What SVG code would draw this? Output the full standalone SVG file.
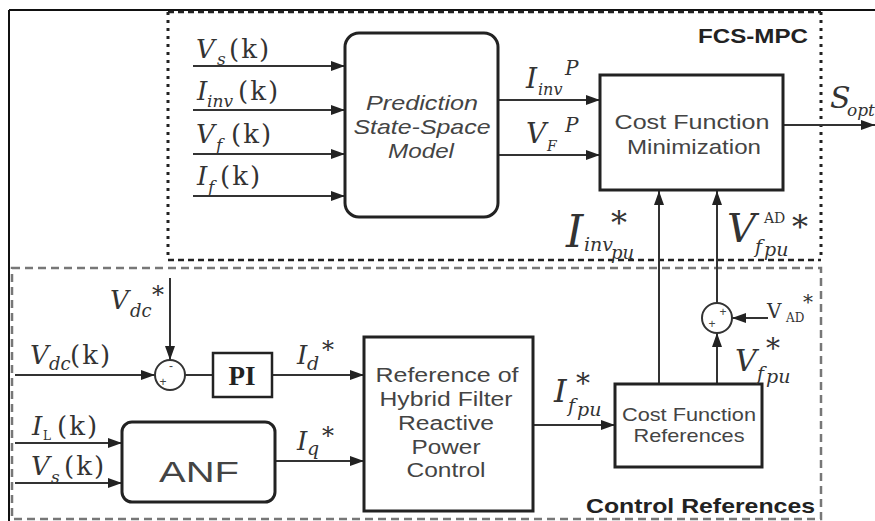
<svg xmlns="http://www.w3.org/2000/svg" width="875" height="521" viewBox="0 0 875 521">
<defs>
<marker id="ah" markerWidth="14" markerHeight="10" refX="14" refY="5" orient="auto" markerUnits="userSpaceOnUse"><path d="M0,0 L14,5 L0,10 z" fill="#222"/></marker>
<style>
.ln{stroke:#333;stroke-width:2;fill:none}
.box{stroke:#222;stroke-width:3;fill:#fff}
.sum{stroke:#333;stroke-width:2;fill:#fff}
.m{font-family:"DejaVu Serif","Liberation Serif",serif;fill:#333;font-size:26px}
.i{font-style:italic}
.s{font-family:"Liberation Sans",Arial,sans-serif;fill:#444;text-anchor:middle}
.b{font-family:"Liberation Sans",Arial,sans-serif;font-weight:bold;fill:#222;text-anchor:end}
.sg{font-family:"Liberation Sans",Arial,sans-serif;fill:#444;font-size:12px;text-anchor:middle}
</style>
</defs>
<rect width="875" height="521" fill="#fff"/>
<!-- outer frame -->
<path d="M9,10 H875 M9,10 V521" stroke="#111" stroke-width="2" fill="none"/>
<!-- FCS-MPC region -->
<g id="fcs-mpc-region">
<path d="M168,12 H821 M168,260 H821" stroke="#222" stroke-width="2.5" stroke-dasharray="6,4" fill="none"/>
<path d="M168,12 V260 M821,12 V260" stroke="#222" stroke-width="3" stroke-dasharray="3,5" fill="none"/>
<text class="b" x="808" y="43" font-size="21" textLength="110" lengthAdjust="spacingAndGlyphs">FCS-MPC</text>
</g>
<!-- Control references region -->
<g id="control-references-region">
<rect x="12" y="268" width="809" height="251" fill="none" stroke="#777" stroke-width="2.5" stroke-dasharray="8,5"/>
<text class="b" x="815" y="513" font-size="21" textLength="229" lengthAdjust="spacingAndGlyphs">Control References</text>
</g>

<g id="connectors">
<line class="ln" x1="193" y1="66" x2="345" y2="66" marker-end="url(#ah)"/>
<line class="ln" x1="193" y1="110" x2="345" y2="110" marker-end="url(#ah)"/>
<line class="ln" x1="193" y1="154" x2="345" y2="154" marker-end="url(#ah)"/>
<line class="ln" x1="193" y1="196" x2="345" y2="196" marker-end="url(#ah)"/>
<line class="ln" x1="498" y1="100" x2="600" y2="100" marker-end="url(#ah)"/>
<line class="ln" x1="498" y1="155" x2="600" y2="155" marker-end="url(#ah)"/>
<line class="ln" x1="783" y1="125" x2="875" y2="125" marker-end="url(#ah)"/>
<line class="ln" x1="659" y1="384" x2="659" y2="191" marker-end="url(#ah)"/>
<line class="ln" x1="717" y1="303" x2="717" y2="191" marker-end="url(#ah)"/>
<line class="ln" x1="717" y1="384" x2="717" y2="333" marker-end="url(#ah)"/>
<line class="ln" x1="768" y1="318" x2="732" y2="318" marker-end="url(#ah)"/>
<line class="ln" x1="170" y1="278" x2="170" y2="360" marker-end="url(#ah)"/>
<line class="ln" x1="15" y1="375" x2="155" y2="375" marker-end="url(#ah)"/>
<line class="ln" x1="185" y1="375" x2="213" y2="375"/>
<line class="ln" x1="272" y1="375" x2="364" y2="375" marker-end="url(#ah)"/>
<line class="ln" x1="15" y1="443" x2="122" y2="443" marker-end="url(#ah)"/>
<line class="ln" x1="15" y1="483" x2="122" y2="483" marker-end="url(#ah)"/>
<line class="ln" x1="275" y1="461" x2="364" y2="461" marker-end="url(#ah)"/>
<line class="ln" x1="533" y1="425" x2="615" y2="425" marker-end="url(#ah)"/>
</g>

<g id="prediction-model">
<rect class="box" x="345" y="33" width="153" height="184" rx="14"/>
<text class="s" font-size="21" font-style="italic"><tspan x="422" y="110" textLength="112" lengthAdjust="spacingAndGlyphs">Prediction</tspan><tspan x="422" y="134" textLength="137" lengthAdjust="spacingAndGlyphs">State-Space</tspan><tspan x="421" y="158" textLength="66" lengthAdjust="spacingAndGlyphs">Model</tspan></text>
</g>

<g id="cost-function-minimization">
<rect class="box" x="600" y="75" width="183" height="115"/>
<text class="s" font-size="21"><tspan x="692" y="129" textLength="155" lengthAdjust="spacingAndGlyphs">Cost Function</tspan><tspan x="694" y="154" textLength="134" lengthAdjust="spacingAndGlyphs">Minimization</tspan></text>
</g>

<g id="sum-vdc">
<circle class="sum" cx="170" cy="375" r="15"/>
<text class="sg" x="171" y="370" font-size="16">-</text>
<text class="sg" x="163" y="386">+</text>
</g>

<g id="pi">
<rect x="213" y="353" width="59" height="44" fill="#fff" stroke="#222" stroke-width="2.5"/>
<text x="242" y="385" font-family="'Liberation Serif','DejaVu Serif',serif" font-weight="bold" font-size="27" fill="#222" text-anchor="middle">PI</text>
</g>

<g id="anf">
<rect class="box" x="122" y="422" width="153" height="80" rx="10"/>
<text class="s" x="199" y="482" font-size="30" fill="#333" textLength="80" lengthAdjust="spacingAndGlyphs">ANF</text>
</g>

<g id="reference-hybrid-filter">
<rect class="box" x="364" y="337" width="169" height="174"/>
<text class="s" font-size="20"><tspan x="447" y="382" textLength="143" lengthAdjust="spacingAndGlyphs">Reference of</tspan><tspan x="446" y="406" textLength="133" lengthAdjust="spacingAndGlyphs">Hybrid Filter</tspan><tspan x="446" y="430" textLength="96" lengthAdjust="spacingAndGlyphs">Reactive</tspan><tspan x="446" y="454" textLength="69" lengthAdjust="spacingAndGlyphs">Power</tspan><tspan x="446" y="477" textLength="79" lengthAdjust="spacingAndGlyphs">Control</tspan></text>
</g>

<g id="cost-function-references">
<rect class="box" x="615" y="384" width="147" height="83"/>
<text class="s" font-size="19"><tspan x="689" y="421" textLength="134" lengthAdjust="spacingAndGlyphs">Cost Function</tspan><tspan x="689" y="442" textLength="111" lengthAdjust="spacingAndGlyphs">References</tspan></text>
</g>

<g id="sum-vad">
<circle class="sum" cx="717" cy="318" r="15"/>
<text class="sg" x="723" y="316" font-size="11">+</text>
<text class="sg" x="712" y="328" font-size="11">+</text>
</g>

<g id="labels">
<text class="m"><tspan class="i" x="196" y="58">V</tspan><tspan class="i" x="217" y="65" font-size="17">s</tspan><tspan x="229" y="58" letter-spacing="2">(k)</tspan></text>
<text class="m"><tspan class="i" x="197" y="100">I</tspan><tspan class="i" x="207" y="107" font-size="17">inv</tspan><tspan x="238" y="100" letter-spacing="2">(k)</tspan></text>
<text class="m"><tspan class="i" x="196" y="143">V</tspan><tspan class="i" x="216" y="151" font-size="17">f</tspan><tspan x="231" y="143" letter-spacing="2">(k)</tspan></text>
<text class="m"><tspan class="i" x="197" y="185">I</tspan><tspan class="i" x="208" y="193" font-size="17">f</tspan><tspan x="220" y="185" letter-spacing="2">(k)</tspan></text>
<text class="m"><tspan class="i" x="526" y="88" font-size="28">I</tspan><tspan class="i" x="538" y="95" font-size="16">inv</tspan><tspan class="i" x="565" y="75" font-size="20">P</tspan></text>
<text class="m"><tspan class="i" x="526" y="143" font-size="28">V</tspan><tspan class="i" x="547" y="151" font-size="14">F</tspan><tspan class="i" x="565" y="132" font-size="20">P</tspan></text>
<text class="m"><tspan class="i" x="830" y="108" font-size="30">S</tspan><tspan class="i" x="847" y="116" font-size="17">opt</tspan></text>
<text class="m"><tspan class="i" x="566" y="247" font-size="44">I</tspan><tspan class="i" x="584" y="251" font-size="19">inv</tspan><tspan class="i" x="611" y="259" font-size="18">pu</tspan><tspan x="611" y="234" font-size="32">*</tspan></text>
<text class="m"><tspan class="i" x="727" y="242" font-size="40">V</tspan><tspan class="i" x="755" y="253" font-size="19">f</tspan><tspan class="i" x="764" y="256" font-size="19">pu</tspan><tspan x="764" y="223" font-size="14">AD</tspan><tspan x="792" y="238" font-size="32">*</tspan></text>
<text class="m"><tspan class="i" x="110" y="309">V</tspan><tspan class="i" x="130" y="317" font-size="18">dc</tspan><tspan x="152" y="303" font-size="24">*</tspan></text>
<text class="m"><tspan class="i" x="30" y="364">V</tspan><tspan class="i" x="49" y="370" font-size="18">dc</tspan><tspan x="70" y="364" letter-spacing="2">(k)</tspan></text>
<text class="m"><tspan class="i" x="297" y="364">I</tspan><tspan class="i" x="307" y="370" font-size="19">d</tspan><tspan x="322" y="358" font-size="24">*</tspan></text>
<text class="m"><tspan class="i" x="297" y="450">I</tspan><tspan class="i" x="307" y="455" font-size="19">q</tspan><tspan x="322" y="444" font-size="24">*</tspan></text>
<text class="m"><tspan class="i" x="32" y="435">I</tspan><tspan x="43" y="440" font-size="12">L</tspan><tspan x="57" y="435" letter-spacing="2">(k)</tspan></text>
<text class="m"><tspan class="i" x="31" y="475">V</tspan><tspan class="i" x="51" y="483" font-size="17">s</tspan><tspan x="64" y="475" letter-spacing="2">(k)</tspan></text>
<text class="m"><tspan class="i" x="554" y="402" font-size="32">I</tspan><tspan class="i" x="568" y="412" font-size="19">f</tspan><tspan class="i" x="577" y="416" font-size="19">pu</tspan><tspan x="576" y="393" font-size="28">*</tspan></text>
<text class="m"><tspan class="i" x="735" y="371" font-size="30">V</tspan><tspan class="i" x="757" y="380" font-size="19">f</tspan><tspan class="i" x="766" y="383" font-size="19">pu</tspan><tspan x="766" y="358" font-size="28">*</tspan></text>
<text class="m"><tspan x="767" y="318" font-size="20">V</tspan><tspan x="786" y="322" font-size="12">AD</tspan><tspan x="803" y="309" font-size="20">*</tspan></text>
</g>
</svg>
